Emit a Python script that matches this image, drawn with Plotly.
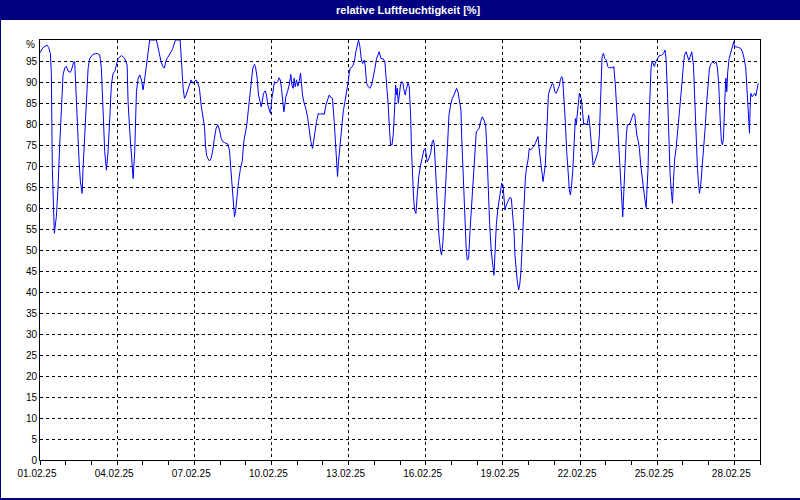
import pandas as pd
import plotly.graph_objects as go

# ---- data (hours since 01.02.2025 00:00, relative humidity in %) ----
hours = [
    0, 2.8, 6.6, 8.1, 9.7, 10.6, 11.5, 12.8, 13.4, 15.3, 16.8, 18.4, 20.0, 21.5, 23.1,
    24.6, 26.2, 28.4, 29.9, 31.5, 32.4, 33.3, 34.6, 36.5, 37.7, 39.3, 40.2, 41.7, 43.3, 44.9, 46.4,
    49.5, 53.3, 55.8, 57.3, 58.9, 60.4, 62.0, 63.5, 65.1, 66.6, 68.2, 69.8, 71.3,
    72.9, 76.0, 79.1, 81.3, 82.2, 83.8, 85.3, 86.9, 88.4, 90.0, 91.6, 93.1, 94.7,
    96.2, 97.8, 99.3, 100.9, 102.4, 108.7, 111.2, 113.0, 114.6, 116.1, 117.7, 119.3,
    120.8, 122.4, 123.9, 125.5, 126.4, 130.8, 131.7, 132.6, 133.6, 134.8, 136.4, 137.9, 139.5, 141.0, 142.6,
    144.2, 145.7, 147.3, 148.8, 150.4, 151.9, 153.5, 154.4, 155.4, 156.6, 158.2, 159.7, 161.3, 162.8, 164.4, 166.0,
    167.5, 169.1, 170.6, 172.2, 173.7, 175.3, 176.8, 178.4, 180.0, 180.9, 181.5, 182.5, 183.7, 185.3, 187.1, 188.7, 190.2,
    191.5, 193.0, 194.6, 195.8, 197.1, 198.6, 200.2, 201.1, 202.7, 203.9, 205.5, 206.4, 207.4, 208.6, 210.2, 211.4,
    212.6, 213.9, 215.1, 216.4, 217.6, 218.9, 220.4, 221.7, 223.2, 224.2, 225.4, 226.4, 227.6, 228.5, 229.5, 231.0,
    232.6, 234.1, 235.1, 236.3, 237.2, 238.2, 239.4, 240.7, 241.9, 243.2, 244.1, 245.0, 246.6, 248.1, 249.7, 251.3,
    252.8, 254.4, 255.3, 256.5, 258.1, 259.7, 261.5, 263.1, 265.3, 266.8, 268.4, 269.9, 271.5, 273.0, 274.6, 275.5,
    276.8, 277.7, 278.6, 279.9, 281.4, 283.0, 284.6, 286.1, 287.7, 288.6, 289.5, 291.7, 293.3, 294.8, 296.4, 297.3,
    298.6, 299.8, 301.1, 302.6, 303.5, 304.8, 306.4, 307.9, 309.5, 311.0, 312.6, 314.1, 315.7, 316.6, 318.2, 320.4,
    321.9, 323.5, 325.0, 326.3, 327.2, 328.5, 329.7, 331.3, 331.9, 332.8, 333.4, 334.4, 335.3, 336.5, 337.8, 338.7,
    339.7, 340.9, 342.1, 343.4, 344.6, 345.9, 346.8, 347.7, 348.7, 349.6, 350.9, 352.1, 353.7, 355.2, 356.8, 358.3,
    359.6, 360.5, 361.4, 363.0, 364.6, 366.1, 367.1, 368.0, 368.9, 369.9, 370.8, 372.3, 373.9, 374.8, 376.1, 377.6,
    379.2, 380.1, 381.7, 383.2, 384.8, 386.4, 387.9, 388.8, 390.1, 391.3, 392.9, 393.5, 394.8, 396.3, 397.9, 398.8,
    400.1, 401.3, 402.9, 404.4, 405.7, 407.2, 408.8, 410.0, 411.3, 412.8, 414.4, 415.9, 416.9, 418.1, 419.7, 421.2,
    422.5, 423.7, 424.6, 425.9, 427.4, 429.0, 429.9, 430.9, 432.1, 433.0, 434.0, 435.2, 436.8, 438.3, 439.9, 441.1,
    442.4, 443.3, 444.3, 445.5, 446.7, 447.7, 448.9, 449.9, 450.8, 451.7, 453.0, 454.2, 455.5, 456.7, 458.0, 459.2,
    460.8, 462.3, 463.9, 464.8, 466.0, 467.3, 468.5, 469.5, 470.4, 471.6, 472.6, 473.5, 474.5, 475.7, 477.3, 478.2,
    479.4, 480.4, 481.6, 482.9, 484.4, 485.7, 486.9, 487.8, 489.1, 490.3, 491.6, 492.8, 494.1, 495.0, 495.9, 497.2,
    498.4, 499.7, 500.6, 501.5, 502.5, 503.4, 504.3, 505.3, 506.5, 507.5, 508.7, 509.6, 510.9, 512.1, 513.1, 514.3,
    515.2, 516.2, 517.7, 519.3, 520.8, 522.1, 523.0, 523.6, 524.6, 525.8, 527.1, 528.6, 529.9, 531.4, 533.0, 534.5,
    535.5, 537.0, 538.6, 540.1, 541.4, 542.3, 543.3, 543.9, 544.5, 545.4, 546.4, 547.3, 548.2, 549.5, 551.0, 552.3,
    553.8, 555.1, 556.0, 557.0, 558.5, 559.4, 560.7, 561.6, 563.2, 564.4, 565.7, 566.6, 567.5, 568.5, 569.4, 570.3,
    571.3, 572.5, 573.4, 574.7, 576.2, 578.1, 580.3, 581.9, 583.4, 584.3, 585.6, 586.8, 588.1, 589.3, 590.3, 591.2,
    592.4, 593.7, 595.2, 596.8, 598.0, 599.3, 600.5, 601.5, 603.0, 604.3, 605.5, 606.8, 608.3, 609.9, 611.1, 612.4,
    613.6, 614.5, 615.5, 616.7, 618.0, 619.2, 620.8, 622.3, 623.6, 624.8, 626.4, 627.9, 629.5, 631.0, 632.3, 633.5,
    634.8, 636.0, 637.0, 637.9, 639.1, 640.1, 641.0, 641.9, 643.2, 644.7, 646.3, 647.5, 648.2, 649.7, 651.9, 654.1,
    655.6, 657.2, 658.7, 659.7, 660.6, 661.5, 662.2, 662.8, 663.4, 664.7, 665.9, 667.2, 668.1, 669.0, 670.3,
]
humidity = [
    97, 98.2, 98.8, 98.2, 96.8, 92, 69.4, 58.3, 54, 58, 64.7, 75, 85.3, 91.7, 93.4,
    93.7, 92.6, 92.3, 93.3, 94.8, 94.8, 89.3, 79.8, 71, 66.3, 63.5, 69.4, 77.4, 86.9, 93.3, 95.6,
    96.6, 96.8, 96.4, 93.3, 82.1, 73.4, 69, 73.4, 81.3, 89.3, 92.1, 92.5, 94,
    95.6, 96.3, 95.6, 94, 85.3, 78.2, 71.8, 67, 73.4, 87.7, 90.9, 91.7, 90.5,
    88.1, 90.9, 94, 98, 100, 100, 96.4, 94.8, 93.7, 93.3, 95.2, 95.8,
    96.4, 97.2, 98.0, 99.6, 100, 100, 96.4, 91.7, 88.5, 86.1, 86.9, 88.1, 89.7, 90.5, 89.7,
    90.1, 90.5, 89.7, 88.5, 84.5, 82.1, 79.4, 75, 72.6, 71.8, 71.2, 71.8, 73.8, 76.6, 79.0, 79.8,
    78.6, 76.6, 75.8, 75.6, 75.4, 75.2, 73.8, 68.7, 63.1, 59.1, 57.9, 59.1, 63.1, 66.3, 69.4, 71.0, 75.8,
    77.4, 79.8, 83.7, 86.9, 90.9, 93.3, 94.2, 93.7, 90.9, 86.9, 85.3, 84.1, 85.3, 87.3, 87.9, 86.9,
    84.5, 83.3, 82.5, 86.1, 88.5, 90.1, 89.7, 90.1, 91.0, 90.5, 88.5, 86.1, 82.9, 84.5, 86.5, 87.7,
    89.3, 91.8, 89.3, 88.5, 90.9, 88.9, 90.5, 89.0, 90.1, 92.1, 89.3, 86.9, 84.9, 83.7, 81.7, 78.2,
    75.8, 74.2, 75.8, 78.2, 80.6, 82.5, 82.3, 82.5, 82.3, 84.5, 86.1, 86.9, 86.3, 86.1, 80.6, 75.8,
    71.0, 67.5, 71.0, 75.0, 79.0, 82.9, 85.3, 87.3, 90.1, 92.1, 93.3, 93.7, 94.8, 97.2, 99.2, 100,
    98.4, 95.6, 94.4, 95.2, 94.0, 89.7, 88.9, 88.5, 89.3, 90.9, 93.3, 95.6, 96.8, 97.2, 95.6, 95.5,
    94.8, 90.1, 84.5, 78.2, 75.0, 75.0, 77.4, 85.3, 89.3, 86.9, 88.5, 84.9, 87.7, 89.3, 90.1, 89.7,
    88.1, 86.9, 88.5, 89.7, 89.0, 82.1, 73.4, 66.3, 62.3, 59.5, 58.7, 63.1, 67.9, 70.2, 72.2, 73.8,
    74.2, 72.2, 71.0, 71.8, 73.0, 75.8, 76.2, 75.0, 71.0, 66.3, 59.9, 53.6, 49.6, 48.8, 52.0, 60.7,
    69.4, 75.8, 82.1, 84.5, 86.1, 86.9, 88.1, 88.5, 87.7, 86.1, 83.3, 77.4, 67.9, 56.7, 49.6, 47.6,
    48.0, 54.4, 60.7, 67.9, 73.4, 78.2, 78.6, 79.0, 80.6, 81.7, 80.9, 79.8, 75.0, 66.3, 56.0, 49.6,
    46.4, 44.0, 48.8, 56.0, 59.9, 63.1, 65.1, 65.9, 65.5, 62.3, 59.5, 60.7, 61.9, 62.5, 62.3, 59.1,
    54.4, 48.8, 44.8, 42.5, 40.5, 41.7, 44.8, 50.4, 56.7, 62.3, 67.1, 69.8, 71.4, 74.2, 73.8, 74.2,
    74.6, 75.4, 76.6, 77.0, 73.8, 71.0, 68.7, 66.3, 67.9, 70.2, 75.8, 82.9, 86.9, 88.1, 88.9, 89.7,
    89.3, 87.7, 87.3, 88.1, 88.9, 90.5, 91.3, 90.9, 86.5, 80.6, 73.4, 67.5, 64.3, 63.1, 64.7, 68.7,
    75.0, 81.3, 80.1, 82.1, 85.3, 87.3, 86.5, 86.1, 82.5, 79.8, 80.2, 79.8, 80.2, 82.1, 79.8, 75.0,
    71.4, 70.2, 71.0, 72.2, 73.4, 77.4, 85.3, 91.7, 96.0, 96.8, 95.6, 95.2, 93.7, 93.3, 93.5, 93.3,
    93.7, 89.3, 82.1, 75.0, 67.9, 63.1, 59.9, 57.9, 61.5, 67.1, 72.6, 77.4, 79.8, 79.8, 80.4, 81.3,
    82.5, 82.1, 80.2, 77.4, 75.8, 74.2, 70.2, 67.9, 64.7, 62.3, 60.1, 64.7, 69.4, 81.3, 89.3, 93.3,
    95.0, 94.0, 93.7, 94.8, 95.6, 96.3, 96.4, 96.8, 97.6, 95.6, 87.7, 77.4, 67.9, 63.9, 61.1, 66.3,
    71.8, 74.2, 78.2, 82.1, 85.3, 90.1, 94.0, 96.4, 97.2, 96.4, 95.2, 96.0, 97.2, 94.0, 85.3, 76.6,
    69.4, 66.3, 63.5, 65.5, 69.4, 73.4, 79.0, 85.3, 90.1, 93.3, 94.4, 94.8, 94.4, 94.8, 93.3, 89.3,
    81.3, 75.8, 75.0, 76.6, 85.3, 90.9, 87.7, 92.5, 95.6, 97.2, 98.4, 99.6, 98.4, 98.4, 98.2, 98.0,
    97.2, 95.6, 93.3, 89.3, 85.3, 80.6, 77.8, 83.7, 87.3, 86.5, 86.9, 87.3, 86.7, 88.1, 89.7,
]
y_ticks = list(range(0, 100, 5))
title_text = "relative Luftfeuchtigkeit [%]"
start, end = "2025-02-01", "2025-03-01"

times = pd.Timestamp(start) + pd.to_timedelta(hours, unit="h")

NAVY = "#000080"
FONT = "Liberation Sans"

fig = go.Figure(go.Scatter(x=times, y=humidity, mode="lines",
                           line=dict(color="#0000ff", width=1),
                           hoverinfo="x+y", showlegend=False))

# pixel helpers for decoration outside plot area (plot area: x 40..760, y 40..460)
def px(xp):
    return (xp - 40) / 720

def py(yp):
    return (460 - yp) / 420

fig.update_layout(
    width=800, height=500, autosize=False,
    margin=dict(l=40, r=40, t=40, b=40, pad=0),
    paper_bgcolor="white", plot_bgcolor="white",
    font=dict(family=FONT, size=10, color="black"),
    shapes=[
        dict(type="rect", xref="paper", yref="paper", x0=px(0), x1=px(800), y0=py(20), y1=py(0),
             fillcolor=NAVY, line=dict(width=0), layer="below"),
        dict(type="line", xref="paper", yref="paper", x0=px(0.5), x1=px(0.5), y0=py(0), y1=py(500),
             line=dict(color=NAVY, width=1)),
        dict(type="line", xref="paper", yref="paper", x0=px(0), x1=px(800), y0=py(499), y1=py(499),
             line=dict(color=NAVY, width=2)),
    ],
    annotations=[
        dict(text="<b>" + title_text + "</b>", xref="paper", yref="paper", x=px(409), y=py(10),
             xanchor="center", yanchor="middle", showarrow=False,
             font=dict(family=FONT, size=11, color="white")),
        dict(text="%", xref="paper", yref="paper", x=0, y=1, xanchor="right", yanchor="middle",
             xshift=-3, yshift=-4, showarrow=False, font=dict(family=FONT, size=10, color="black")),
    ],
)

fig.update_xaxes(
    type="date", range=[start, end],
    tick0=start, dtick=3 * 86400000, tickformat="%d.%m.%y",
    ticks="outside", ticklen=4, tickcolor="black", tickwidth=1,
    showgrid=True, gridcolor="black", gridwidth=1, griddash="3px,3px",
    minor=dict(dtick=86400000, tick0=start, ticks="outside", ticklen=4, tickcolor="black", showgrid=False),
    showline=True, linecolor="black", linewidth=1, mirror=True,
    zeroline=False, layer="below traces", ticklabelshift=-3,
    tickfont=dict(family=FONT, size=10, color="black"),
)
fig.update_yaxes(
    range=[0, 100], tickmode="array", tickvals=y_ticks, ticktext=[str(v) for v in y_ticks],
    ticks="", showgrid=True, gridcolor="black", gridwidth=1, griddash="3px,3px",
    showline=True, linecolor="black", linewidth=1, mirror=True,
    zeroline=False, layer="below traces",
    tickfont=dict(family=FONT, size=10, color="black"),
)

fig.write_html("out.html", config={"displayModeBar": False},
               post_script="document.body.style.margin='0';document.body.style.overflow='hidden';")
